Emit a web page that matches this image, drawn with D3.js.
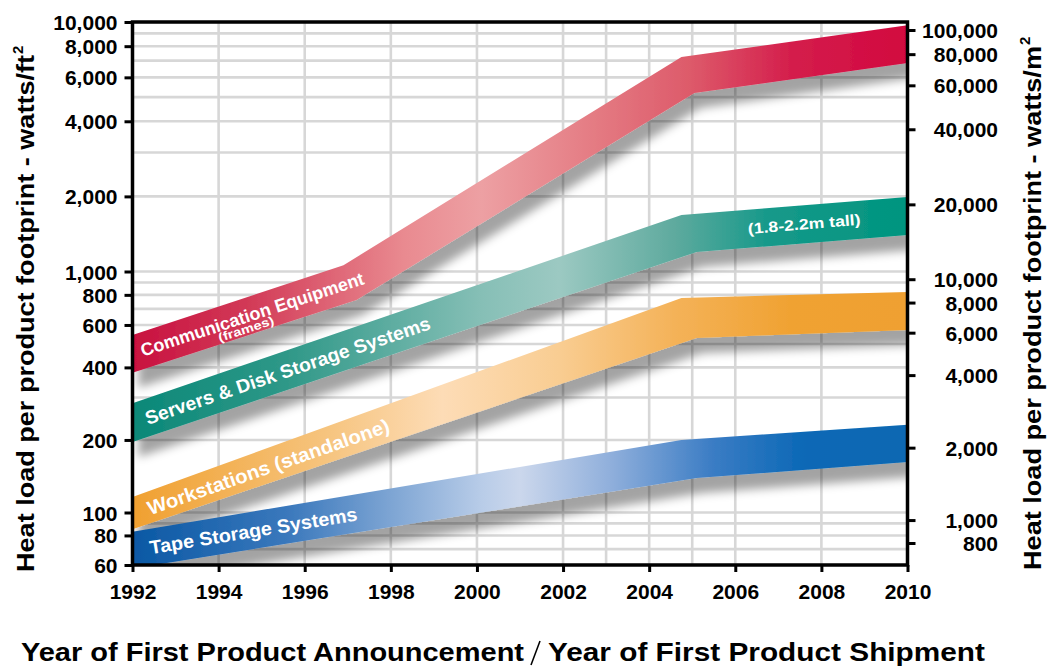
<!DOCTYPE html>
<html>
<head>
<meta charset="utf-8">
<script src="https://cdn.jsdelivr.net/npm/d3@7"></script>
<style>
  html, body { margin: 0; padding: 0; background: #fff; }
  svg { display: block; font-family: "Liberation Sans", Arial, Helvetica, sans-serif; }
</style>
</head>
<body>
<svg id="chart" width="1053" height="668"></svg>
<script>
// ---- data -------------------------------------------------------------
const yearTicks = [1992, 1994, 1996, 1998, 2000, 2002, 2004, 2006, 2008, 2010];
const gridYears = [1994, 1996, 1998, 2000, 2002, 2003, 2004, 2005, 2006, 2008];
const leftTicks = [60, 80, 100, 200, 400, 600, 800, 1000, 2000, 4000, 6000, 8000, 10000];
const rightTicks = [800, 1000, 2000, 4000, 6000, 8000, 10000, 20000, 40000, 60000, 80000, 100000];
const FT2_TO_M2 = 10.764; // watts/ft² -> watts/m²

// Band edges as [year, watts/ft²]
const commUpper   = [[1992, 545], [1996.9, 1060], [2004.75, 7240], [2010, 9700]];
const commLower   = [[1992, 380], [1997.2, 762], [2005.05, 5190], [2010, 6850]];
const serverUpper = [[1992, 284], [2004.75, 1684], [2010, 1990]];
const serverLower = [[1992, 196], [2005.1, 1197], [2010, 1400]];
const workUpper   = [[1992, 116], [2004.75, 777], [2010, 822]];
const workLower   = [[1992, 85], [2005.1, 530], [2010, 572]];
const tapeUpper   = [[1992, 83], [2004.75, 200], [2010, 231]];
const tapeLower   = [[1992, 58], [2005.1, 139], [2010, 162]];

const bandNames = ["Communication Equipment", "Servers & Disk Storage Systems",
                   "Workstations (standalone)", "Tape Storage Systems"];

// colour ramps along each band: [offset, colour]
const commColors   = [[0, "#c8103f"], [0.15, "#d23a57"], [0.35, "#e98a90"], [0.45, "#eda0a3"],
                      [0.6, "#e47a82"], [0.72, "#dd5a6a"], [0.85, "#d41e4c"], [1, "#d2063f"]];
const serverColors = [[0, "#0a8878"], [0.2, "#2f9888"], [0.45, "#86bfb6"], [0.55, "#9cc9c2"],
                      [0.7, "#5eaa9e"], [0.82, "#16998a"], [1, "#00957f"]];
const workColors   = [[0, "#f0a030"], [0.25, "#f6c47e"], [0.4, "#fddcb6"], [0.55, "#f9cd92"],
                      [0.7, "#f4b258"], [0.85, "#f0a232"], [1, "#efa030"]];
const tapeColors   = [[0, "#0a58a4"], [0.2, "#3a78bc"], [0.45, "#b8cce8"], [0.5, "#cbd7ec"],
                      [0.62, "#8eaedb"], [0.75, "#3a7cc4"], [0.87, "#0a68b6"], [1, "#0868b2"]];

// ---- scales -----------------------------------------------------------
const plot = { left: 132.5, right: 907.5, top: 22, bottom: 565 };
const x = d3.scaleLinear().domain([1992, 2010]).range([plot.left, plot.right]);
const yDomain = [60, 100, 1000, 10000];
const yRange = [565, 512.5, 271.5, 22];
const y = d3.scaleLog().domain(yDomain).range(yRange);
const yRight = d3.scaleLog().domain(yDomain.map(v => v * FT2_TO_M2)).range(yRange);

const svg = d3.select("#chart");
const defs = svg.append("defs");

defs.append("clipPath").attr("id", "plotClip")
  .append("rect")
  .attr("x", plot.left).attr("y", plot.top)
  .attr("width", plot.right - plot.left).attr("height", plot.bottom - plot.top);

// soft drop shadow under each band
const flt = defs.append("filter").attr("id", "bandShadow")
  .attr("x", "-5%").attr("y", "-30%").attr("width", "115%").attr("height", "190%");
flt.append("feGaussianBlur").attr("in", "SourceAlpha").attr("stdDeviation", 5).attr("result", "blur");
flt.append("feOffset").attr("in", "blur").attr("dx", 6).attr("dy", 15).attr("result", "off");
flt.append("feFlood").attr("flood-color", "#000").attr("flood-opacity", 0.36).attr("result", "col");
flt.append("feComposite").attr("in", "col").attr("in2", "off").attr("operator", "in").attr("result", "shadow");
const merge = flt.append("feMerge");
merge.append("feMergeNode").attr("in", "shadow");
merge.append("feMergeNode").attr("in", "SourceGraphic");

// ---- grid -------------------------------------------------------------
const gridValues = [];
[10, 100, 1000].forEach(dec => d3.range(1, 10).forEach(k => {
  const v = dec * k;
  if (v >= 60 && v <= 10000) gridValues.push(v);
}));
gridValues.push(10000);

const grid = svg.append("g").attr("clip-path", "url(#plotClip)")
  .attr("stroke", "#d7d7d7").attr("stroke-width", 2.6);
grid.selectAll("line.h").data(gridValues).join("line").attr("class", "h")
  .attr("x1", plot.left).attr("x2", plot.right)
  .attr("y1", d => y(d)).attr("y2", d => y(d));
grid.selectAll("line.v").data(gridYears).join("line").attr("class", "v")
  .attr("x1", d => x(d)).attr("x2", d => x(d))
  .attr("y1", plot.top).attr("y2", plot.bottom);

// ---- bands ------------------------------------------------------------
const bands = [
  { id: "comm",   name: bandNames[0], upper: commUpper,   lower: commLower,   colors: commColors },
  { id: "server", name: bandNames[1], upper: serverUpper, lower: serverLower, colors: serverColors },
  { id: "work",   name: bandNames[2], upper: workUpper,   lower: workLower,   colors: workColors },
  { id: "tape",   name: bandNames[3], upper: tapeUpper,   lower: tapeLower,   colors: tapeColors }
];

bands.forEach(b => {
  const g = defs.append("linearGradient").attr("id", "grad-" + b.id)
    .attr("gradientUnits", "userSpaceOnUse")
    .attr("x1", x(1992)).attr("x2", x(2010)).attr("y1", 0).attr("y2", 0);
  b.colors.forEach(([o, c]) => g.append("stop").attr("offset", o).attr("stop-color", c));
});

const edge = d3.line().x(d => x(d[0])).y(d => y(d[1]));
const bandLayer = svg.append("g").attr("clip-path", "url(#plotClip)");
bands.forEach(b => {
  bandLayer.append("path")
    .attr("d", edge(b.upper.concat(b.lower.slice().reverse())) + "Z")
    .attr("fill", `url(#grad-${b.id})`)
    .attr("filter", "url(#bandShadow)");
});

// pixel y of a band edge at a given year (straight segments between vertices)
function edgeY(pts, yr) {
  for (let i = 1; i < pts.length; i++) {
    if (yr <= pts[i][0] || i === pts.length - 1) {
      const t = (yr - pts[i - 1][0]) / (pts[i][0] - pts[i - 1][0]);
      return y(pts[i - 1][1]) + t * (y(pts[i][1]) - y(pts[i - 1][1]));
    }
  }
}
function centre(b, yr) {
  return [x(yr), (edgeY(b.upper, yr) + edgeY(b.lower, yr)) / 2];
}
function angle(b, yr0, yr1) {
  const p0 = centre(b, yr0), p1 = centre(b, yr1);
  return Math.atan2(p1[1] - p0[1], p1[0] - p0[0]) * 180 / Math.PI;
}

// ---- band labels ------------------------------------------------------
const labelLayer = svg.append("g").attr("fill", "#fff").attr("font-weight", "bold");
function bandLabel(b, text, yr, rotFrom, rotTo, opts) {
  const [px, py] = centre(b, yr);
  const t = labelLayer.append("text")
    .attr("transform", `translate(${px},${py}) rotate(${angle(b, rotFrom, rotTo)})`)
    .attr("y", opts.dy)
    .attr("font-size", opts.size)
    .attr("text-anchor", opts.anchor || "start")
    .text(text);
  if (opts.len) t.attr("textLength", opts.len).attr("lengthAdjust", "spacingAndGlyphs");
  return t;
}
bandLabel(bands[0], bands[0].name, 1992.2, 1992, 1996.9, { size: 18, dy: 6, len: 234 });
bandLabel(bands[0], "(frames)", 1994.55, 1992, 1996.9, { size: 12, dy: 16, anchor: "middle", len: 58 });
bandLabel(bands[1], bands[1].name, 1992.3, 1992, 2004.9, { size: 19, dy: 7, len: 300 });
bandLabel(bands[1], "(1.8-2.2m tall)", 2007.6, 2005, 2010, { size: 15, dy: 5, anchor: "middle", len: 113 });
bandLabel(bands[2], bands[2].name, 1992.35, 1992, 2004.9, { size: 19.5, dy: 8, len: 255 });
bandLabel(bands[3], bands[3].name, 1992.4, 1992, 2004.9, { size: 19, dy: 7, len: 210 });

// ---- axes -------------------------------------------------------------
function styleAxis(g) {
  g.select(".domain").remove();
  g.selectAll(".tick line").attr("stroke", "#000").attr("stroke-width", 3);
  g.selectAll(".tick text").attr("fill", "#000").attr("font-weight", "bold")
    .attr("font-size", 21).attr("font-family", null);
}

svg.append("g").attr("transform", `translate(${plot.left},0)`)
  .call(d3.axisLeft(y).tickValues(leftTicks).tickFormat(d3.format(",")).tickSize(8).tickPadding(7))
  .call(styleAxis)
  .call(g => g.selectAll(".tick text").attr("dy", "0.36em"));

svg.append("g").attr("transform", `translate(${plot.right},0)`)
  .call(d3.axisRight(yRight).tickValues(rightTicks).tickFormat(d3.format(",")).tickSize(8))
  .call(styleAxis)
  .call(g => g.selectAll(".tick text").attr("text-anchor", "end").attr("x", 998 - plot.right).attr("dy", "0.36em"));

svg.append("g").attr("transform", `translate(0,${plot.bottom})`)
  .call(d3.axisBottom(x).tickValues(yearTicks).tickFormat(d3.format("d")).tickSize(7).tickPadding(12))
  .call(styleAxis);

// frame
svg.append("rect")
  .attr("x", plot.left).attr("y", plot.top)
  .attr("width", plot.right - plot.left).attr("height", plot.bottom - plot.top)
  .attr("fill", "none").attr("stroke", "#000").attr("stroke-width", 3.5);

// ---- titles -----------------------------------------------------------
const titles = svg.append("g").attr("font-weight", "bold").attr("fill", "#000");

// left: watts/ft²
titles.append("text")
  .attr("transform", "translate(34,572) rotate(-90)")
  .attr("font-size", 24).attr("textLength", 517).attr("lengthAdjust", "spacingAndGlyphs")
  .text("Heat load per product footprint - watts/ft");
titles.append("text")
  .attr("transform", "translate(23,54) rotate(-90)")
  .attr("font-size", 15).text("2");

// right: watts/m²
titles.append("text")
  .attr("transform", "translate(1041,570) rotate(-90)")
  .attr("font-size", 24).attr("textLength", 524).attr("lengthAdjust", "spacingAndGlyphs")
  .text("Heat load per product footprint - watts/m");
titles.append("text")
  .attr("transform", "translate(1030,45) rotate(-90)")
  .attr("font-size", 15).text("2");

// bottom
titles.append("text")
  .attr("x", 21).attr("y", 661).attr("font-size", 26)
  .attr("textLength", 503).attr("lengthAdjust", "spacingAndGlyphs")
  .text("Year of First Product Announcement");
titles.append("line")
  .attr("x1", 540).attr("y1", 641).attr("x2", 531).attr("y2", 665)
  .attr("stroke", "#000").attr("stroke-width", 1.6);
titles.append("text")
  .attr("x", 548).attr("y", 661).attr("font-size", 26)
  .attr("textLength", 437).attr("lengthAdjust", "spacingAndGlyphs")
  .text("Year of First Product Shipment");
</script>
</body>
</html>
